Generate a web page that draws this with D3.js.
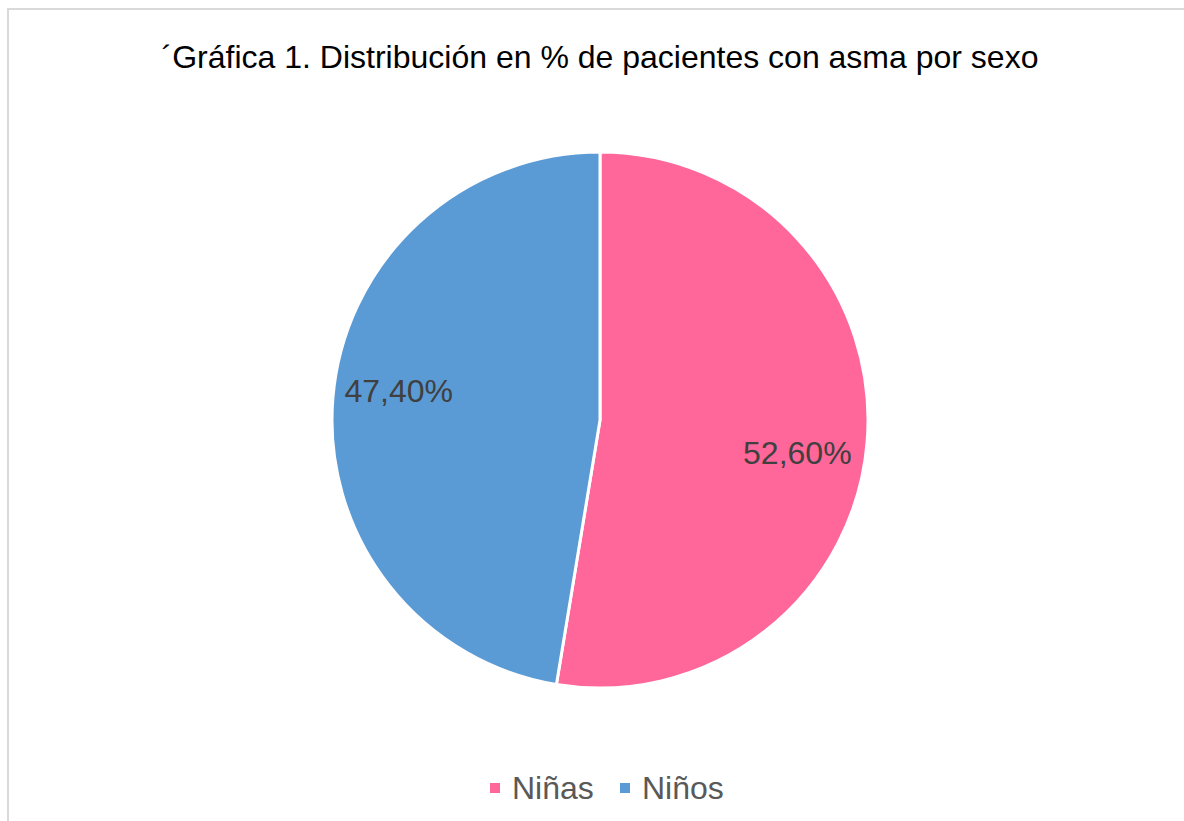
<!DOCTYPE html>
<html lang="es">
<head>
    <meta charset="UTF-8">
    <title>Gráfica 1. Distribución en % de pacientes con asma por sexo</title>
    <script src="https://d3js.org/d3.v7.min.js"></script>
    <style>
        body {
            margin: 0;
            background: #fff;
            font-family: "Liberation Sans", Arial, sans-serif;
        }
    </style>
</head>
<body>
<div id="chart"></div>

<script>
    // data
    const categories = ["Niñas", "Niños"];
    const values = [52.6, 47.4];
    const labels = ["52,60%", "47,40%"];
    const colors = ["#FF6699", "#5B9BD5"];

    const width = 1184, height = 821;
    const cx = 600, cy = 420, radius = 268;

    const svg = d3.select("#chart")
        .append("svg")
        .attr("width", width)
        .attr("height", height);

    // chart area border (cut off on right and bottom)
    svg.append("rect")
        .attr("x", 8)
        .attr("y", 9)
        .attr("width", 1200)
        .attr("height", 840)
        .attr("fill", "none")
        .attr("stroke", "#d9d9d9")
        .attr("stroke-width", 2);

    svg.append("text")
        .attr("x", 600)
        .attr("y", 68)
        .attr("text-anchor", "middle")
        .style("font-size", "32px")
        .attr("fill", "#000")
        .text("´Gráfica 1. Distribución en % de pacientes con asma por sexo");

    const pie = d3.pie().sort(null).value(d => d.value);
    const arcs = pie(categories.map((c, i) => ({name: c, value: values[i], label: labels[i]})));

    const arc = d3.arc().innerRadius(0).outerRadius(radius);
    const labelArc = d3.arc().innerRadius(200).outerRadius(200);

    const g = svg.append("g").attr("transform", `translate(${cx},${cy})`);

    g.selectAll("path")
        .data(arcs)
        .enter()
        .append("path")
        .attr("d", arc)
        .attr("fill", (d, i) => colors[i])
        .attr("stroke", "#fff")
        .attr("stroke-width", 3)
        .attr("stroke-linejoin", "round");

    // excel nudges labels a bit off the bisector
    const nudge = [16, -13];
    g.selectAll(".lbl")
        .data(arcs)
        .enter()
        .append("text")
        .attr("class", "lbl")
        .attr("transform", (d, i) => {
            const c = labelArc.centroid(d);
            return `translate(${c[0] - 2},${c[1] + nudge[i]})`;
        })
        .attr("text-anchor", "middle")
        .attr("dy", "0.35em")
        .style("font-size", "32px")
        .attr("fill", "#404040")
        .text(d => d.data.label);

    // legend
    const legend = svg.append("g").attr("transform", "translate(490,788)");
    const item = legend.selectAll("g")
        .data(categories)
        .enter()
        .append("g")
        .attr("transform", (d, i) => `translate(${i * 130},0)`);

    item.append("rect")
        .attr("x", 0)
        .attr("y", -5)
        .attr("width", 10)
        .attr("height", 10)
        .attr("fill", (d, i) => colors[i]);

    item.append("text")
        .attr("x", 22)
        .attr("y", 11)
        .style("font-size", "32px")
        .attr("fill", "#595959")
        .text(d => d);
</script>
</body>
</html>
